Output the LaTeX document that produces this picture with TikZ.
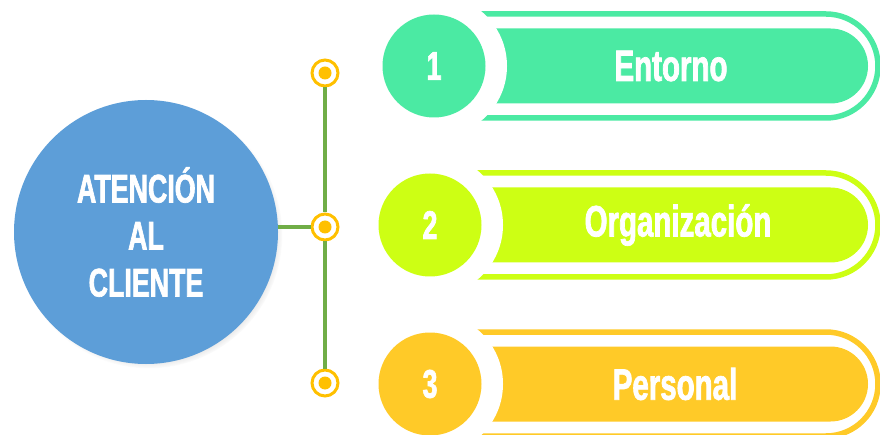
\documentclass[tikz,border=0pt]{standalone}
\usepackage{fontspec}
\newfontfamily\condfont[FakeStretch=0.67,FakeBold=1.6]{Liberation Sans}
\usetikzlibrary{shadows}
\definecolor{hubblue}{RGB}{93,158,216}
\definecolor{linkgreen}{RGB}{112,173,71}
\definecolor{dotgold}{RGB}{255,192,0}
\definecolor{tabgreen}{RGB}{75,234,163}
\definecolor{tablime}{RGB}{205,255,20}
\definecolor{tabgold}{RGB}{255,202,40}
\begin{document}
\begin{tikzpicture}[x=1pt,y=-1pt,
  hub/.style={circle, fill=hubblue, minimum size=264pt, inner sep=0pt,
    text=white, align=center,
    font=\condfont\bfseries\fontsize{40}{47}\selectfont,
    circular drop shadow={shadow xshift=3pt, shadow yshift=-3pt,
      shadow scale=1.01, opacity=0.5}},
  ring/.style={circle, draw=dotgold, line width=3pt, fill=white,
    minimum size=26pt, inner sep=0pt,
    path picture={\fill[dotgold] (path picture bounding box.center) circle[radius=6.5pt];}},
  link/.style={draw=linkgreen, line width=4pt},
  numdisc/.style={circle, minimum size=103pt, inner sep=0pt, text=white,
    font=\condfont\bfseries\fontsize{40}{40}\selectfont},
  tabtext/.style={text=white, inner sep=0pt,
    font=\condfont\bfseries\fontsize{44}{44}\selectfont},
]
\useasboundingbox (0,0) rectangle (880,435);
\clip (0,0) rectangle (880,435);

% central topic
\node[hub] (main) at (146,232) {ATENCIÓN\\AL\\CLIENTE};

% timeline markers
\node[ring] (d1) at (325,73) {};
\node[ring] (d2) at (325,227) {};
\node[ring] (d3) at (325,383) {};
\draw[link] (d1) -- (d2);
\draw[link] (d2) -- (d3);
\draw[link] (d2.west) -- (d2.west -| main.east);

% numbered tabs
\foreach \cx/\cy/\col/\num/\lx/\lab [count=\i] in
  {434/66/tabgreen/1/671/Entorno,
   430/225/tablime/2/678/Organización,
   430/384/tabgold/3/675/Personal}{
  \draw[\col, line width=5.5pt, rounded corners=52pt]
    (\cx-60,\cy-52) rectangle (878,\cy+52);
  \fill[\col, rounded corners=37.5pt]
    (\cx-60,\cy-37.5) rectangle (868,\cy+37.5);
  \fill[white] (\cx+2,\cy) circle[radius=71pt];
  \node[numdisc, fill=\col] (n\i) at (\cx,\cy) {\num};
  \node[tabtext] (l\i) at (\lx,\cy) {\lab};
}
\end{tikzpicture}
\end{document}
